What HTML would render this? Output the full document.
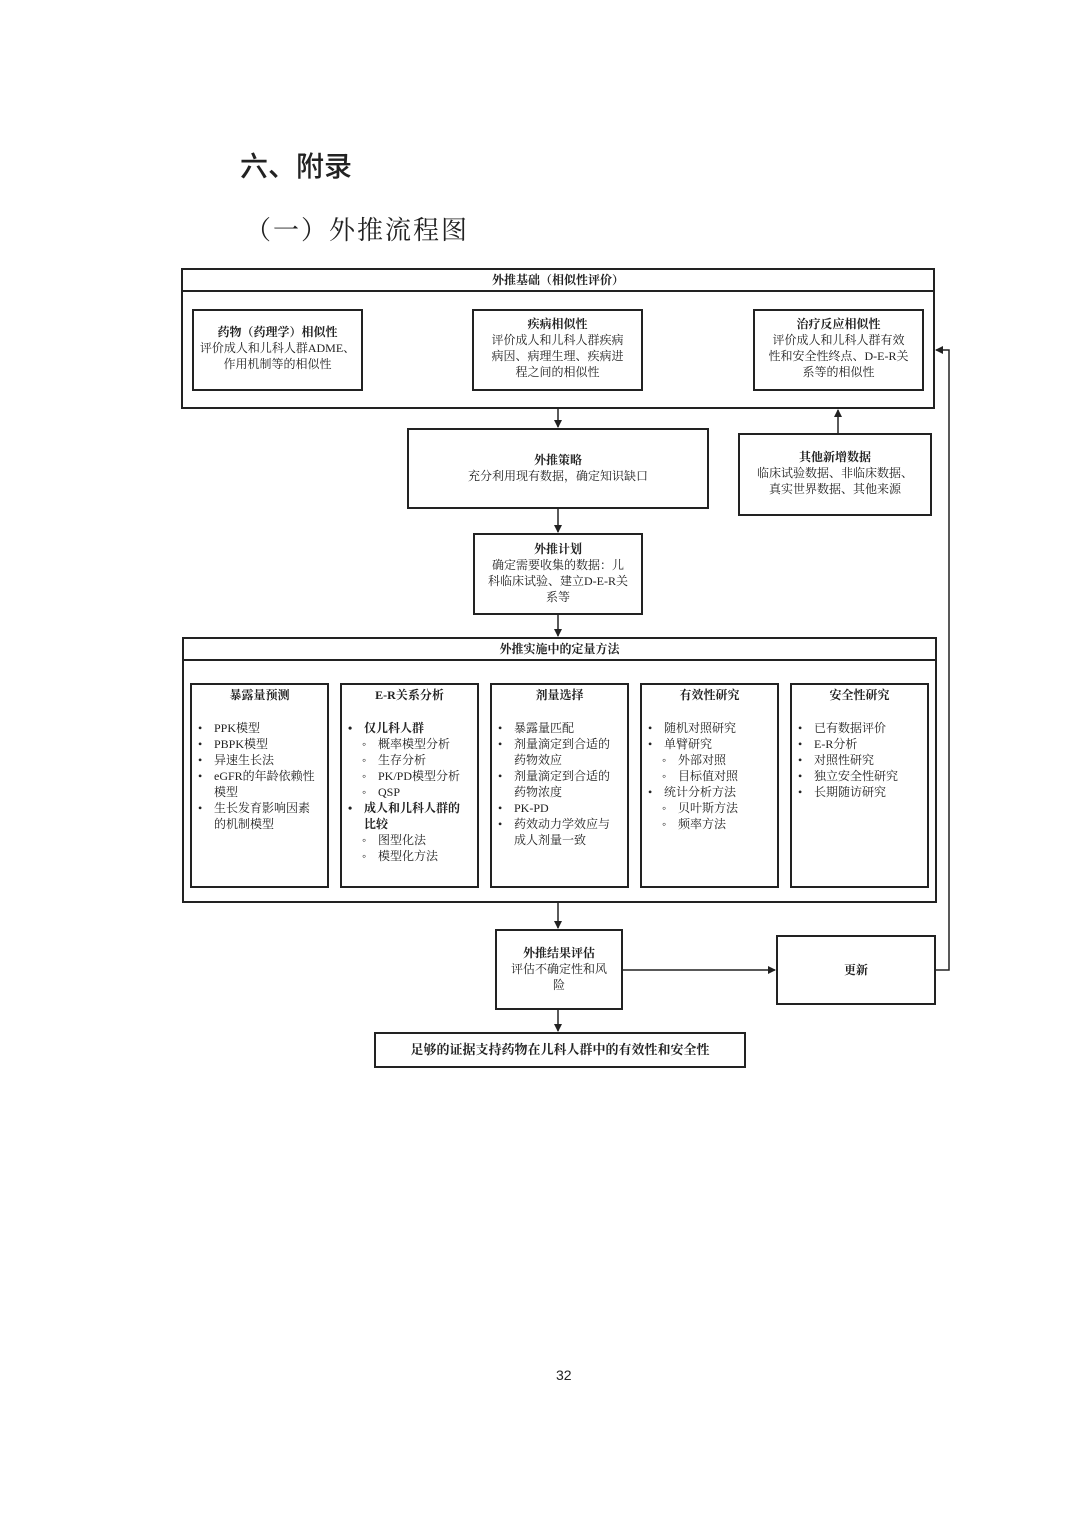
<!DOCTYPE html>
<html><head><meta charset="utf-8"><style>
body{margin:0;width:1080px;height:1527px;background:#fff;position:relative;font-family:"Liberation Serif","Noto Serif CJK SC",serif;color:#222;overflow:hidden}
.b{position:absolute;border:2px solid #222;box-sizing:border-box;background:#fff}
.t{position:absolute;font-size:12px;line-height:16px;text-align:center}
.h{font-weight:bold}
ul{margin:0;padding:0;list-style:none;font-size:12px;line-height:16px;text-align:left}
li{position:relative;padding-left:22px}
li:before{content:"•";position:absolute;left:6px}
li.s{padding-left:36px}
li.s:before{content:"◦";left:20px;font-size:12px}
</style></head><body>
<div style="position:absolute;left:240px;top:145px;font-size:28px;font-family:'Noto Sans CJK SC',sans-serif;font-weight:500">六、附录</div>
<div style="position:absolute;left:245px;top:210px;font-size:26px;letter-spacing:2px">（一）外推流程图</div>

<div class="b" style="left:181px;top:268px;width:754px;height:141px"></div>
<div class="b" style="left:181px;top:268px;width:754px;height:24px"></div>
<div class="t h" style="left:181px;top:272px;width:754px">外推基础（相似性评价）</div>
<div class="b" style="left:192px;top:309px;width:171px;height:82px"></div>
<div class="t" style="left:192px;top:324px;width:171px"><span class="h">药物（药理学）相似性</span><br>评价成人和儿科人群ADME、<br>作用机制等的相似性</div>
<div class="b" style="left:472px;top:309px;width:171px;height:82px"></div>
<div class="t" style="left:472px;top:316px;width:171px"><span class="h">疾病相似性</span><br>评价成人和儿科人群疾病<br>病因、病理生理、疾病进<br>程之间的相似性</div>
<div class="b" style="left:753px;top:309px;width:171px;height:82px"></div>
<div class="t" style="left:753px;top:316px;width:171px"><span class="h">治疗反应相似性</span><br>评价成人和儿科人群有效<br>性和安全性终点、D-E-R关<br>系等的相似性</div>

<div class="b" style="left:407px;top:428px;width:302px;height:81px"></div>
<div class="t" style="left:407px;top:452px;width:302px"><span class="h">外推策略</span><br>充分利用现有数据，确定知识缺口</div>
<div class="b" style="left:738px;top:433px;width:194px;height:83px"></div>
<div class="t" style="left:738px;top:449px;width:194px"><span class="h">其他新增数据</span><br>临床试验数据、非临床数据、<br>真实世界数据、其他来源</div>

<div class="b" style="left:473px;top:533px;width:170px;height:82px"></div>
<div class="t" style="left:473px;top:541px;width:170px"><span class="h">外推计划</span><br>确定需要收集的数据：儿<br>科临床试验、建立D-E-R关<br>系等</div>

<div class="b" style="left:182px;top:637px;width:755px;height:266px"></div>
<div class="b" style="left:182px;top:637px;width:755px;height:24px"></div>
<div class="t h" style="left:182px;top:641px;width:755px">外推实施中的定量方法</div>

<div class="b" style="left:190px;top:683px;width:139px;height:205px"></div>
<div class="t h" style="left:190px;top:687px;width:139px">暴露量预测</div>
<ul style="position:absolute;left:192px;top:720px;width:130px"><li>PPK模型</li><li>PBPK模型</li><li>异速生长法</li><li>eGFR的年龄依赖性<br>模型</li><li>生长发育影响因素<br>的机制模型</li></ul>
<div class="b" style="left:340px;top:683px;width:139px;height:205px"></div>
<div class="t h" style="left:340px;top:687px;width:139px">E-R关系分析</div>
<ul style="position:absolute;left:342px;top:720px;width:135px"><li class="h">仅儿科人群</li><li class="s">概率模型分析</li><li class="s">生存分析</li><li class="s">PK/PD模型分析</li><li class="s">QSP</li><li class="h">成人和儿科人群的<br>比较</li><li class="s">图型化法</li><li class="s">模型化方法</li></ul>
<div class="b" style="left:490px;top:683px;width:139px;height:205px"></div>
<div class="t h" style="left:490px;top:687px;width:139px">剂量选择</div>
<ul style="position:absolute;left:492px;top:720px;width:135px"><li>暴露量匹配</li><li>剂量滴定到合适的<br>药物效应</li><li>剂量滴定到合适的<br>药物浓度</li><li>PK-PD</li><li>药效动力学效应与<br>成人剂量一致</li></ul>
<div class="b" style="left:640px;top:683px;width:139px;height:205px"></div>
<div class="t h" style="left:640px;top:687px;width:139px">有效性研究</div>
<ul style="position:absolute;left:642px;top:720px;width:135px"><li>随机对照研究</li><li>单臂研究</li><li class="s">外部对照</li><li class="s">目标值对照</li><li>统计分析方法</li><li class="s">贝叶斯方法</li><li class="s">频率方法</li></ul>
<div class="b" style="left:790px;top:683px;width:139px;height:205px"></div>
<div class="t h" style="left:790px;top:687px;width:139px">安全性研究</div>
<ul style="position:absolute;left:792px;top:720px;width:135px"><li>已有数据评价</li><li>E-R分析</li><li>对照性研究</li><li>独立安全性研究</li><li>长期随访研究</li></ul>

<div class="b" style="left:495px;top:929px;width:128px;height:81px"></div>
<div class="t" style="left:495px;top:945px;width:128px"><span class="h">外推结果评估</span><br>评估不确定性和风<br>险</div>
<div class="b" style="left:776px;top:935px;width:160px;height:70px"></div>
<div class="t h" style="left:776px;top:962px;width:160px">更新</div>
<div class="b" style="left:374px;top:1032px;width:372px;height:36px"></div>
<div class="t h" style="left:374px;top:1042px;width:372px;font-size:13px">足够的证据支持药物在儿科人群中的有效性和安全性</div>

<svg style="position:absolute;left:0;top:0" width="1080" height="1527">
<defs><marker id="a" markerWidth="8" markerHeight="8" refX="7" refY="4" orient="auto" markerUnits="userSpaceOnUse"><path d="M0,0L8,4L0,8z" fill="#222"/></marker></defs>
<g stroke="#222" stroke-width="1.5" fill="none">
<line x1="558" y1="409" x2="558" y2="427" marker-end="url(#a)"/>
<line x1="838" y1="433" x2="838" y2="410" marker-end="url(#a)"/>
<line x1="558" y1="509" x2="558" y2="532" marker-end="url(#a)"/>
<line x1="558" y1="615" x2="558" y2="636" marker-end="url(#a)"/>
<line x1="558" y1="903" x2="558" y2="928" marker-end="url(#a)"/>
<line x1="558" y1="1010" x2="558" y2="1031" marker-end="url(#a)"/>
<line x1="623" y1="970" x2="775" y2="970" marker-end="url(#a)"/>
<polyline points="936,970 949,970 949,350 936,350" marker-end="url(#a)"/>
</g></svg>
<div style="position:absolute;left:556px;top:1367px;font-size:14px;font-family:'Liberation Sans',sans-serif">32</div>
</body></html>
